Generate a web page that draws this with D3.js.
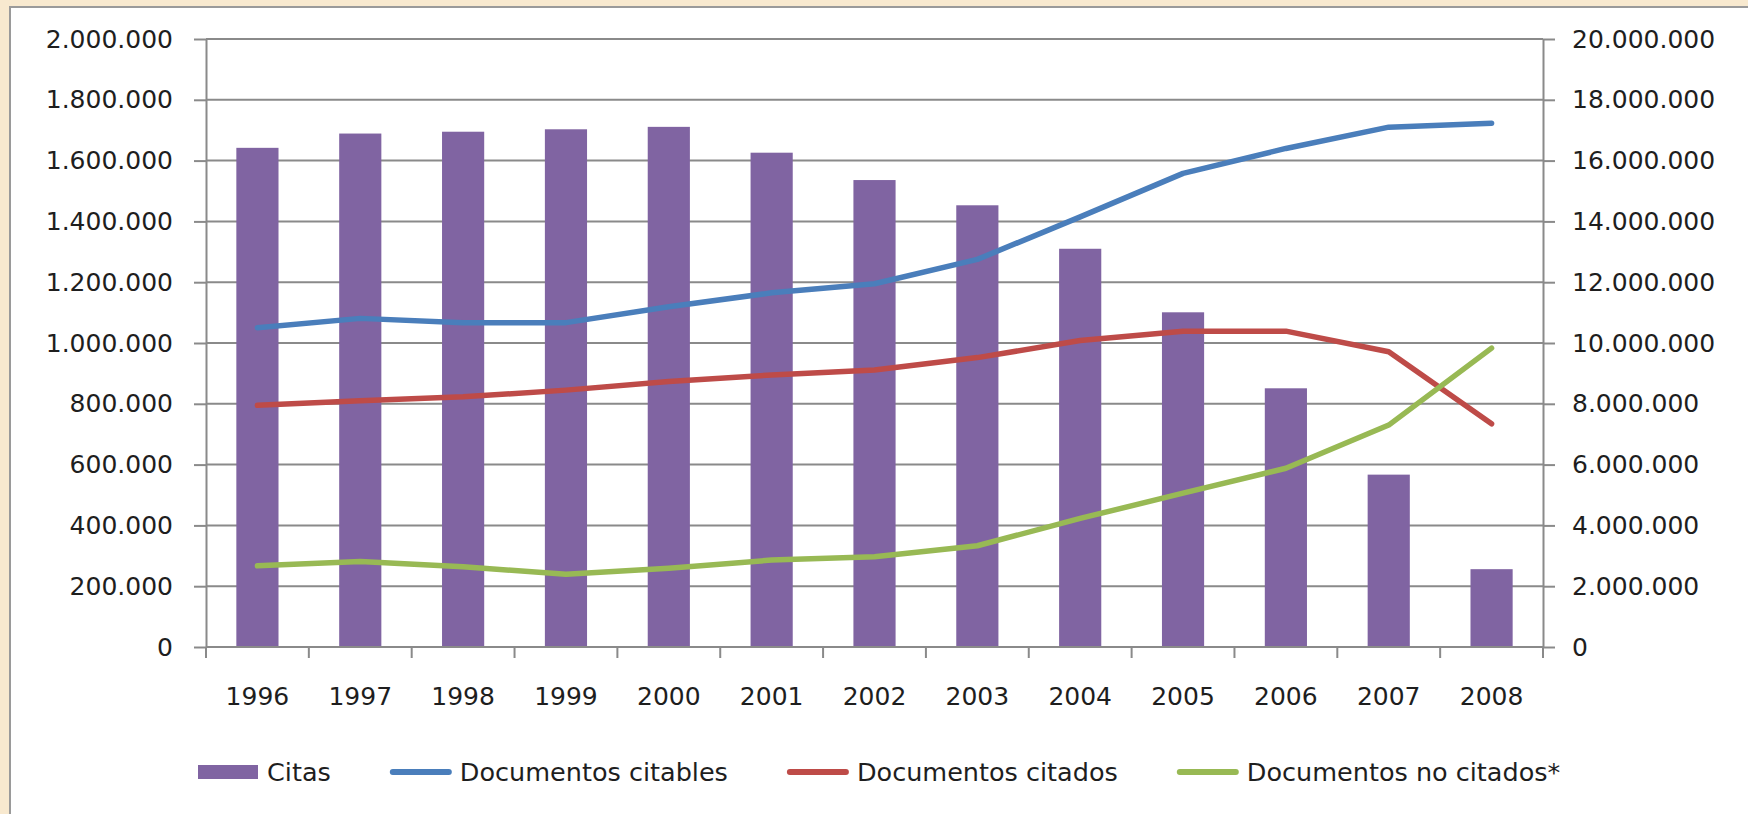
<!DOCTYPE html>
<html>
<head>
<meta charset="utf-8">
<script src="https://cdn.jsdelivr.net/npm/d3@7"></script>
<style>
  body { margin: 0; background: #f8e9cf; }
  text { font-family: "DejaVu Sans", Verdana, sans-serif; fill: #1e1e1e; }
</style>
</head>
<body>
<div id="chart"></div>
<script>
var years = ["1996", "1997", "1998", "1999", "2000", "2001", "2002", "2003", "2004", "2005", "2006", "2007", "2008"];
var citas = [1642000, 1689000, 1695000, 1703000, 1711000, 1626000, 1536000, 1453000, 1310000, 1101000, 851000, 567000, 256000];
var docCitables = [10500000, 10810000, 10670000, 10670000, 11190000, 11650000, 11950000, 12750000, 14150000, 15580000, 16400000, 17100000, 17230000];
var docCitados = [7950000, 8100000, 8230000, 8450000, 8730000, 8950000, 9110000, 9520000, 10080000, 10390000, 10390000, 9710000, 7340000];
var docNoCitados = [2670000, 2810000, 2640000, 2390000, 2590000, 2860000, 2970000, 3330000, 4230000, 5060000, 5880000, 7300000, 9830000];
var leftTicks = [0, 200000, 400000, 600000, 800000, 1000000, 1200000, 1400000, 1600000, 1800000, 2000000];
var rightTicks = [0, 2000000, 4000000, 6000000, 8000000, 10000000, 12000000, 14000000, 16000000, 18000000, 20000000];
var legendNames = ["Citas", "Documentos citables", "Documentos citados", "Documentos no citados*"];

var width = 1748, height = 814;
var margin = {top: 39, right: 205, bottom: 167, left: 206};
var colors = {bar: "#8064a2", citables: "#4a7ebb", citados: "#be4b48", noCitados: "#98b954"};

var locale = d3.formatLocale({decimal: ",", thousands: ".", grouping: [3], currency: ["", "€"]});
var fmt = locale.format(",d");

var svg = d3.select("#chart").append("svg").attr("width", width).attr("height", height);

// white chart box with grey frame (left and top edges visible)
svg.append("rect").attr("x", 10).attr("y", 7).attr("width", width).attr("height", height)
    .style("fill", "#fff").style("stroke", "#9a9a9a").style("stroke-width", 2);

var x = d3.scaleBand().domain(years).range([margin.left, width - margin.right]).padding(0);
var yLeft = d3.scaleLinear().domain([0, 2000000]).range([height - margin.bottom, margin.top]);
var yRight = d3.scaleLinear().domain([0, 20000000]).range([height - margin.bottom, margin.top]);

// gridlines
svg.append("g").selectAll("line")
    .data(leftTicks.slice(1))
    .enter().append("line")
        .attr("x1", margin.left).attr("x2", width - margin.right)
        .attr("y1", d => yLeft(d)).attr("y2", d => yLeft(d))
        .style("stroke", "#8a8a8a").style("stroke-width", 2);

// bars
var barW = x.bandwidth() * 0.41;
svg.append("g").selectAll("rect")
    .data(years)
    .enter().append("rect")
        .attr("x", (d, i) => x(d) + x.bandwidth() / 2 - barW / 2)
        .attr("y", (d, i) => yLeft(citas[i]))
        .attr("width", barW)
        .attr("height", (d, i) => yLeft(0) - yLeft(citas[i]))
        .style("fill", colors.bar);

// axes
var axisStyle = function(g) {
    g.select(".domain").style("stroke", "#8a8a8a").style("stroke-width", 2);
    g.selectAll(".tick line").style("stroke", "#8a8a8a").style("stroke-width", 2);
    g.selectAll("text").attr("font-family", null).style("font-size", "25px").style("fill", "#1e1e1e");
};

svg.append("g")
    .attr("transform", "translate(" + margin.left + ",0)")
    .call(d3.axisLeft(yLeft).tickValues(leftTicks).tickFormat(fmt).tickSize(12).tickSizeOuter(0).tickPadding(21))
    .call(axisStyle);

svg.append("g")
    .attr("transform", "translate(" + (width - margin.right) + ",0)")
    .call(d3.axisRight(yRight).tickValues(rightTicks).tickFormat(fmt).tickSize(12).tickSizeOuter(0).tickPadding(17))
    .call(axisStyle);

// x axis: ticks between categories, labels at band centres
var gx = svg.append("g").attr("transform", "translate(0," + yLeft(0) + ")");
gx.append("line").attr("x1", margin.left).attr("x2", width - margin.right)
    .style("stroke", "#8a8a8a").style("stroke-width", 2);
gx.selectAll("line.tk")
    .data(years.concat(["end"]))
    .enter().append("line").attr("class", "tk")
        .attr("x1", (d, i) => i < years.length ? x(d) : x(years[years.length - 1]) + x.bandwidth())
        .attr("x2", (d, i) => i < years.length ? x(d) : x(years[years.length - 1]) + x.bandwidth())
        .attr("y1", 0).attr("y2", 11)
        .style("stroke", "#8a8a8a").style("stroke-width", 2);
gx.selectAll("text")
    .data(years)
    .enter().append("text")
        .attr("x", d => x(d) + x.bandwidth() / 2)
        .attr("y", 58)
        .attr("text-anchor", "middle")
        .style("font-size", "25px")
        .text(d => d);

// lines
var series = [
    {values: docCitables, color: colors.citables},
    {values: docCitados, color: colors.citados},
    {values: docNoCitados, color: colors.noCitados}
];
var line = d3.line()
    .x((d, i) => x(years[i]) + x.bandwidth() / 2)
    .y(d => yRight(d));
svg.append("g").selectAll("path")
    .data(series)
    .enter().append("path")
        .attr("d", d => line(d.values))
        .style("fill", "none")
        .style("stroke", d => d.color)
        .style("stroke-width", 5.5)
        .style("stroke-linejoin", "round")
        .style("stroke-linecap", "round");

// legend
var legend = svg.append("g").attr("transform", "translate(198,772)");
var lx = 0;
legendNames.forEach(function(name, i) {
    var item = legend.append("g").attr("transform", "translate(" + lx + ",0)");
    if (i === 0) {
        item.append("rect").attr("x", 0).attr("y", -7).attr("width", 60).attr("height", 14).style("fill", colors.bar);
    } else {
        item.append("line").attr("x1", 2).attr("x2", 58).attr("y1", 0).attr("y2", 0)
            .style("stroke", series[i - 1].color).style("stroke-width", 6).style("stroke-linecap", "round");
    }
    var t = item.append("text").attr("x", 69).attr("y", 9).style("font-size", "25.5px").text(name);
    lx += 69 + t.node().getComputedTextLength() + 60;
});
</script>
</body>
</html>
